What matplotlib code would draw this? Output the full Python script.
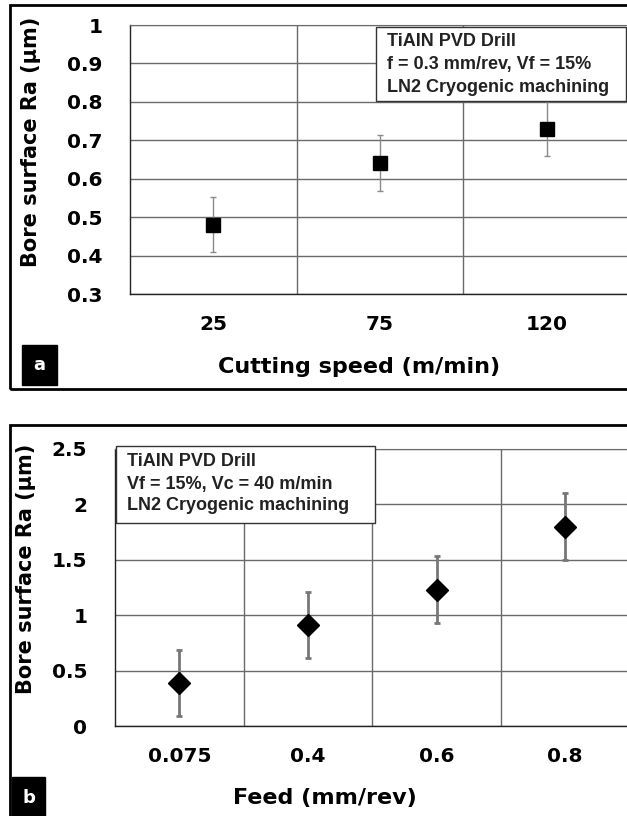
import matplotlib
matplotlib.use("Agg")
import matplotlib.pyplot as plt
from matplotlib.patches import Rectangle

W, H = 627, 816

# panel a: cutting speed sweep
speed_labels = ["25", "75", "120"]
speed_ra = [0.48, 0.64, 0.73]
speed_err = [0.072, 0.073, 0.072]

# panel b: feed sweep
feed_labels = ["0.075", "0.4", "0.6", "0.8"]
feed_ra = [0.39, 0.91, 1.23, 1.80]
feed_err = [0.30, 0.30, 0.30, 0.30]

plt.rcParams["font.family"] = ["DejaVu Sans"]
NOTE_FONT = ["Liberation Sans Narrow", "Liberation Sans", "DejaVu Sans"]
GRID = "#6a6a6a"


def px_box(x0, y0, x1, y1):
    # pixel box (top-left origin) -> figure fraction [left, bottom, width, height]
    return [x0 / W, 1 - y1 / H, (x1 - x0) / W, (y1 - y0) / H]


def fx(x):
    return x / W


def fy(y):
    return 1 - y / H


def style_axes(ax, ncat):
    ax.set_xlim(0, ncat)
    ax.set_xticks([i + 0.5 for i in range(ncat)])
    ax.set_xticks(range(1, ncat), minor=True)
    ax.grid(True, which="minor", axis="x", color=GRID, lw=1)
    ax.grid(True, which="major", axis="y", color=GRID, lw=1)
    ax.set_axisbelow(True)
    ax.tick_params(axis="both", which="both", length=0)
    ax.tick_params(axis="x", pad=15, labelsize=14.5)
    ax.tick_params(axis="y", pad=20, labelsize=14.5)
    ax.spines["top"].set_color(GRID)
    ax.spines["right"].set_visible(False)
    for s in ("left", "bottom"):
        ax.spines[s].set_color("#222222")
        ax.spines[s].set_linewidth(1)


def note_box(x0, y0, x1, y1, lines, ys):
    fig.patches.append(Rectangle((fx(x0), fy(y1)), (x1 - x0) / W, (y1 - y0) / H,
                                 transform=fig.transFigure, facecolor="white",
                                 edgecolor="#333333", lw=1, zorder=5))
    for t, y in zip(lines, ys):
        fig.text(fx(x0 + 11), fy(y), t, ha="left", va="center", fontsize=13,
                 fontweight="bold", family=NOTE_FONT, color="#222222", zorder=6)


def panel_tag(x0, y0, x1, y1, letter, ty):
    fig.patches.append(Rectangle((fx(x0), fy(y1)), (x1 - x0) / W, (y1 - y0) / H,
                                 transform=fig.transFigure, facecolor="black",
                                 edgecolor="black", zorder=5))
    fig.text(fx((x0 + x1) / 2), fy(ty), letter, ha="center", va="center",
             color="white", fontsize=13, fontweight="bold", zorder=6)


fig = plt.figure(figsize=(W / 100, H / 100), dpi=100)

# outer frames
for y0, y1 in [(5, 389), (425, 840)]:
    fig.patches.append(Rectangle((fx(10), fy(y1)), (660 - 10) / W, (y1 - y0) / H,
                                 transform=fig.transFigure, fill=False,
                                 edgecolor="black", lw=2, zorder=1))

# ---- panel a
ax1 = fig.add_axes(px_box(130, 25, 130 + 3 * 166.7, 294))
style_axes(ax1, len(speed_labels))
ax1.set_ylim(0.3, 1.0)
ax1.set_yticks([0.3, 0.4, 0.5, 0.6, 0.7, 0.8, 0.9, 1.0])
ax1.set_yticklabels(["0.3", "0.4", "0.5", "0.6", "0.7", "0.8", "0.9", "1"], fontweight="bold")
ax1.set_xticklabels(speed_labels, fontweight="bold")
xa = [i + 0.5 for i in range(len(speed_labels))]
ax1.errorbar(xa, speed_ra, yerr=speed_err, fmt="none", ecolor="#8a8a8a",
             elinewidth=1, capsize=2.5, capthick=1, zorder=3)
ax1.plot(xa, speed_ra, "s", color="black", ms=10.5, zorder=4)

fig.text(fx(31), fy(142), "Bore surface Ra (µm)", rotation=90, ha="center",
         va="center", fontsize=15, fontweight="bold")
fig.text(fx(359), fy(367), "Cutting speed (m/min)", ha="center", va="center",
         fontsize=16, fontweight="bold")
note_box(376, 27, 626, 101,
         ["TiAIN PVD Drill", "f = 0.3 mm/rev, Vf = 15%", "LN2 Cryogenic machining"],
         [42, 65, 87])
panel_tag(22, 345, 57, 385, "a", 365)

# ---- panel b
ax2 = fig.add_axes(px_box(115, 449, 115 + 4 * 128.6, 726))
style_axes(ax2, len(feed_labels))
ax2.set_ylim(0, 2.5)
ax2.set_yticks([0, 0.5, 1.0, 1.5, 2.0, 2.5])
ax2.set_yticklabels(["0", "0.5", "1", "1.5", "2", "2.5"], fontweight="bold")
ax2.set_xticklabels(feed_labels, fontweight="bold")
xb = [i + 0.5 for i in range(len(feed_labels))]
ax2.errorbar(xb, feed_ra, yerr=feed_err, fmt="none", ecolor="#777777",
             elinewidth=2, capsize=2.5, capthick=2, zorder=3)
ax2.plot(xb, feed_ra, "D", color="black", ms=11, zorder=4)

fig.text(fx(26), fy(569), "Bore surface Ra (µm)", rotation=90, ha="center",
         va="center", fontsize=15, fontweight="bold")
fig.text(fx(325), fy(798), "Feed (mm/rev)", ha="center", va="center",
         fontsize=16, fontweight="bold")
note_box(116, 446, 375, 523,
         ["TiAIN PVD Drill", "Vf = 15%, Vc = 40 m/min", "LN2 Cryogenic machining"],
         [462, 484, 506])
panel_tag(12, 777, 45, 830, "b", 798)

fig.savefig("out.png", dpi=100)
